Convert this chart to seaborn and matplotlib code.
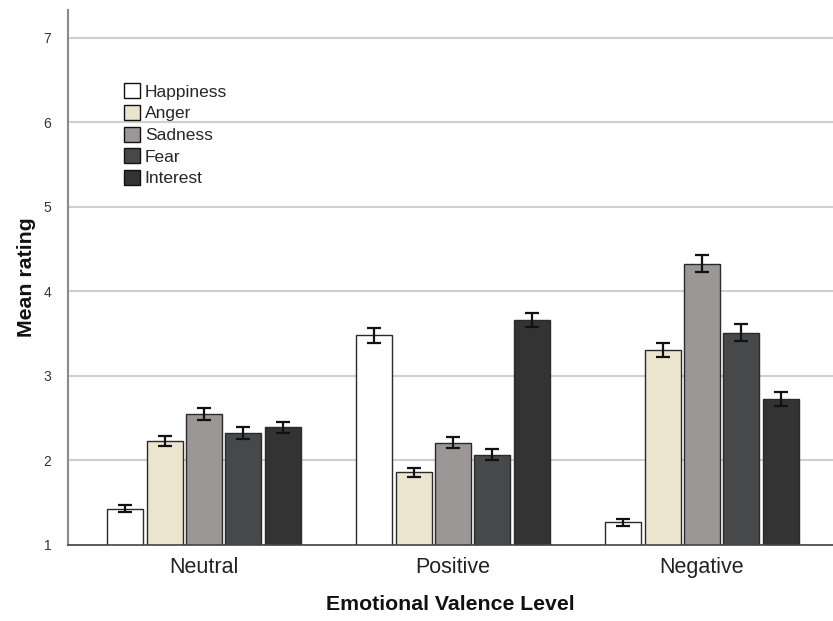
import matplotlib
matplotlib.use("Agg")
import matplotlib.pyplot as plt
import seaborn as sns
import pandas as pd
import numpy as np
from matplotlib.patches import Patch

# Mean ratings per valence level and emotion, with standard errors
valence_levels = ["Neutral", "Positive", "Negative"]
emotions = ["Happiness", "Anger", "Sadness", "Fear", "Interest"]
happiness = [1.43, 3.48, 1.27]
anger = [2.23, 1.86, 3.31]
sadness = [2.55, 2.21, 4.33]
fear = [2.32, 2.07, 3.51]
interest = [2.39, 3.66, 2.73]
happiness_se = [0.04, 0.09, 0.04]
anger_se = [0.06, 0.05, 0.085]
sadness_se = [0.07, 0.065, 0.10]
fear_se = [0.07, 0.065, 0.10]
interest_se = [0.07, 0.085, 0.085]
y_ticks = [1, 2, 3, 4, 5, 6, 7]

colors = ["#ffffff", "#ebe5cf", "#9a9796", "#47484a", "#333333"]

means = [happiness, anger, sadness, fear, interest]
errs = [happiness_se, anger_se, sadness_se, fear_se, interest_se]
rows = []
for emo, m, e in zip(emotions, means, errs):
    for lvl, v, s in zip(valence_levels, m, e):
        rows.append({"Valence": lvl, "Emotion": emo, "Mean": v, "SE": s})
df = pd.DataFrame(rows)

sns.set_theme(style="white")
plt.rcParams["font.family"] = ["Liberation Sans", "DejaVu Sans"]

fig = plt.figure(figsize=(8.33, 6.21), dpi=100)
ax = fig.add_axes([0.0816, 0.1224, 0.9184, 0.8616])

sns.barplot(data=df, x="Valence", y="Mean", hue="Emotion",
            order=valence_levels, hue_order=emotions, palette=colors,
            errorbar=None, width=0.79, gap=0.09, edgecolor="#2a2a2a",
            linewidth=1.0, saturation=1, legend=False, ax=ax, zorder=3)

# Error bars placed on the drawn bars
for container, emo in zip(ax.containers, emotions):
    sub = df[df["Emotion"] == emo].set_index("Valence").loc[valence_levels]
    xs = [p.get_x() + p.get_width() / 2 for p in container.patches]
    hs = [p.get_height() for p in container.patches]
    ax.errorbar(xs, hs, yerr=sub["SE"].values, fmt="none", ecolor="#111111",
                elinewidth=1.6, capsize=5, capthick=1.6, zorder=4)

ax.set_ylim(1, 7.33)
ax.set_xlim(-0.546, 2.526)
ax.set_yticks(y_ticks)
ax.set_yticklabels([str(t) for t in y_ticks], fontsize=10, color="#333333")
ax.tick_params(axis="x", labelsize=15.5, colors="#222222", length=0, pad=9)
ax.tick_params(axis="y", length=0, pad=12)
ax.yaxis.grid(True, color="#cfcfcf", linewidth=1.5, zorder=0)
ax.set_axisbelow(True)

for side in ["top", "right"]:
    ax.spines[side].set_visible(False)
ax.spines["left"].set_color("#8a8a8a")
ax.spines["left"].set_linewidth(1.5)
ax.spines["bottom"].set_color("#444444")
ax.spines["bottom"].set_linewidth(1.2)
ax.spines["bottom"].set_zorder(5)

ax.set_xlabel("Emotional Valence Level", fontsize=15.3, fontweight="bold",
              labelpad=12, color="#111111")
ax.set_ylabel("Mean rating", fontsize=15.3, fontweight="bold",
              labelpad=5, color="#111111")

handles = [Patch(facecolor=c, edgecolor="#111111", linewidth=1.0) for c in colors]
ax.legend(handles, emotions, loc="upper left", bbox_to_anchor=(0.064, 0.876),
          frameon=False, fontsize=12.5, handlelength=0.95, handleheight=0.95,
          handletextpad=0.25, labelspacing=0.3, borderaxespad=0)

fig.savefig("out.png", dpi=100)
